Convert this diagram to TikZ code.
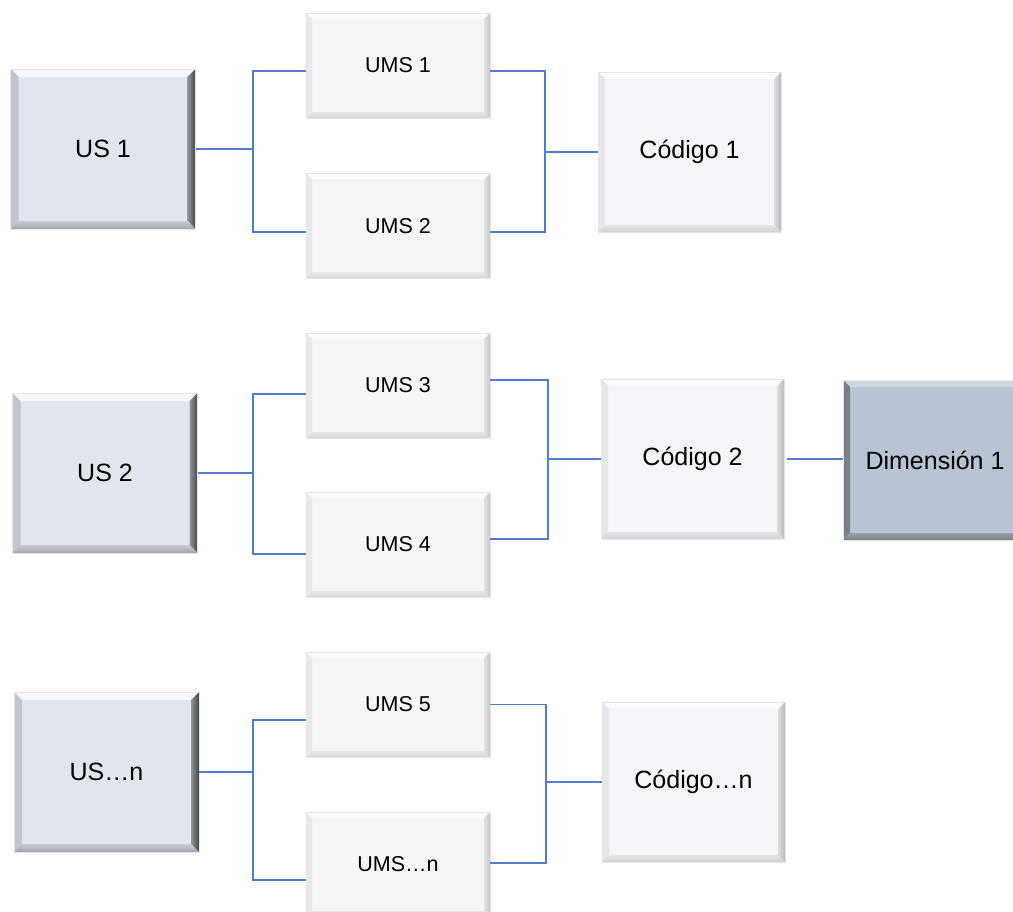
\documentclass[tikz,border=0pt]{standalone}
\usepackage{fontspec}
\setmainfont{Liberation Sans}
\definecolor{lineblue}{HTML}{4F7BD0}
\definecolor{usfill}{HTML}{E0E5EE}
\definecolor{umsfill}{HTML}{F5F5F5}
\definecolor{codfill}{HTML}{F5F5F9}
\definecolor{dimfill}{HTML}{B8C4D3}
% Bevelled faces of a box: #1 bevel width, #2 top, #3 left, #4/#5 right (inner/outer), #6/#7 bottom (inner/outer)
\newcommand\bevelfaces[7]{%
  \fill[#2] (path picture bounding box.north west) -- (path picture bounding box.north east)
    -- ([xshift=-#1,yshift=-#1]path picture bounding box.north east)
    -- ([xshift=#1,yshift=-#1]path picture bounding box.north west) -- cycle;
  \fill[#3] (path picture bounding box.north west)
    -- ([xshift=#1,yshift=-#1]path picture bounding box.north west)
    -- ([xshift=#1,yshift=#1]path picture bounding box.south west)
    -- (path picture bounding box.south west) -- cycle;
  \shade[left color=#4,right color=#5] (path picture bounding box.north east)
    -- (path picture bounding box.south east)
    -- ([xshift=-#1,yshift=#1]path picture bounding box.south east)
    -- ([xshift=-#1,yshift=-#1]path picture bounding box.north east) -- cycle;
  \shade[top color=#6,bottom color=#7] (path picture bounding box.south west)
    -- ([xshift=#1,yshift=#1]path picture bounding box.south west)
    -- ([xshift=-#1,yshift=#1]path picture bounding box.south east)
    -- (path picture bounding box.south east) -- cycle;
}
\tikzset{
  boxbase/.style={rectangle, inner sep=0pt, align=center, draw=black!10, line width=0.6pt},
  usbox/.style={boxbase, fill=usfill, minimum width=185pt, minimum height=160pt,
    font=\fontsize{25}{30}\selectfont,
    path picture={\bevelfaces{8pt}{white!70!usfill}{black!14!usfill}{black!35!usfill}{black!70!usfill}{black!12!usfill}{black!28!usfill}}},
  umsbox/.style={boxbase, fill=umsfill, minimum width=184pt, minimum height=105pt,
    font=\fontsize{21.5}{26}\selectfont,
    path picture={\bevelfaces{6pt}{white!70!umsfill}{black!5!umsfill}{black!8!umsfill}{black!18!umsfill}{black!6!umsfill}{black!12!umsfill}}},
  codbox/.style={boxbase, fill=codfill, minimum width=183pt, minimum height=160pt,
    font=\fontsize{25}{30}\selectfont,
    path picture={\bevelfaces{7pt}{white!70!codfill}{black!6!codfill}{black!10!codfill}{black!24!codfill}{black!7!codfill}{black!14!codfill}}},
  dimbox/.style={boxbase, fill=dimfill, minimum width=184pt, minimum height=160pt,
    font=\fontsize{25}{30}\selectfont,
    path picture={\bevelfaces{7pt}{white!30!dimfill}{black!35!dimfill}{black!20!dimfill}{black!45!dimfill}{black!18!dimfill}{black!35!dimfill}}},
  conn/.style={draw=lineblue, line width=1.3pt}
}
\begin{document}
\begin{tikzpicture}[x=1pt,y=-1pt]
\useasboundingbox (0,0) rectangle (1013,912);
\clip (0,0) rectangle (1013,912);

% source boxes
\node[usbox] (us1) at (103,149) {US 1};
\node[usbox] (us2) at (105,473) {US 2};
\node[usbox] (usn) at (106.5,772) {US…n};

% intermediate boxes
\node[umsbox] (ums1) at (398,65.5) {UMS 1};
\node[umsbox] (ums2) at (398,226) {UMS 2};
\node[umsbox] (ums3) at (398,385.5) {UMS 3};
\node[umsbox] (ums4) at (398,544.5) {UMS 4};
\node[umsbox] (ums5) at (398,704.5) {UMS 5};
\node[umsbox] (umsn) at (398,864.5) {UMS…n};

% code boxes
\node[codbox] (cod1) at (689.5,152) {Código 1};
\node[codbox] (cod2) at (692.5,459) {Código 2};
\node[codbox] (codn) at (693.5,782) {Código…n};

% dimension box
\node[dimbox] (dim1) at (935,460) {Dimensión 1};

% branch points
\coordinate (j1) at (253,149);
\coordinate (j2) at (253,473);
\coordinate (j3) at (253,772);
\coordinate (k1) at (545,152);
\coordinate (k2) at (548,459);
\coordinate (k3) at (546,782);

% group 1
\draw[conn] (us1.east) -- (j1);
\draw[conn] ([yshift=-5.5pt]ums1.west) -| (j1) |- ([yshift=-6pt]ums2.west);
\draw[conn] ([yshift=-5.5pt]ums1.east) -| (k1) |- ([yshift=-6pt]ums2.east);
\draw[conn] (k1) -- (cod1.west |- k1);

% group 2
\draw[conn] (us2.east) -- (j2);
\draw[conn] ([yshift=-8.5pt]ums3.west) -| (j2) |- ([yshift=-9.5pt]ums4.west);
\draw[conn] ([yshift=5.5pt]ums3.east) -| (k2) |- ([yshift=5.5pt]ums4.east);
\draw[conn] (k2) -- (cod2.west |- k2);
\draw[conn] ([xshift=3pt]cod2.east) -- (dim1.west |- cod2.east);

% group 3
\draw[conn] (usn.east) -- (j3);
\draw[conn] ([yshift=-15.5pt]ums5.west) -| (j3) |- ([yshift=-15.5pt]umsn.west);
\draw[conn] (ums5.east) -| (k3) |- ([yshift=1.5pt]umsn.east);
\draw[conn] (k3) -- (codn.west |- k3);
\end{tikzpicture}
\end{document}
